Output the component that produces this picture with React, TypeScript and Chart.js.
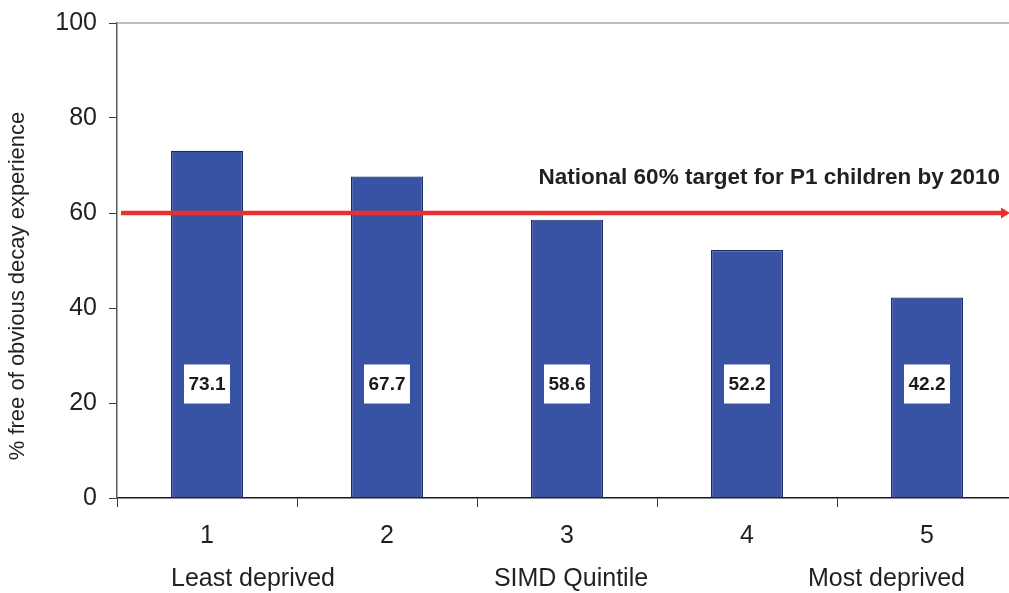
import React, { useEffect, useRef } from "react";
import { Chart, registerables } from "chart.js";

Chart.register(...registerables);

const quintiles = ["1", "2", "3", "4", "5"];
const noteLeft = "Least deprived";
const noteCenter = "SIMD Quintile";
const noteRight = "Most deprived";
const freePercent = [73.1, 67.7, 58.6, 52.2, 42.2];
const targetValue = 60;
const targetLabel = "National 60% target for P1 children by 2010";
const yTitle = "% free of obvious decay experience";
const yTicks = [0, 20, 40, 60, 80, 100];

const FONT = "'Liberation Sans', Arial, Helvetica, sans-serif";

const overlayPlugin = {
  id: "overlay",
  afterDatasetsDraw(chart: any) {
    const { ctx, chartArea, scales } = chart;
    const y = scales.y;
    ctx.save();
    // top light border at max
    ctx.strokeStyle = "#a8a8a8";
    ctx.lineWidth = 1.5;
    ctx.beginPath();
    ctx.moveTo(chartArea.left, y.getPixelForValue(100));
    ctx.lineTo(chartArea.right, y.getPixelForValue(100));
    ctx.stroke();

    // value labels
    const meta = chart.getDatasetMeta(0);
    ctx.font = `bold 19px ${FONT}`;
    ctx.textAlign = "center";
    ctx.textBaseline = "middle";
    const ly = y.getPixelForValue(24);
    meta.data.forEach((bar: any, i: number) => {
      const bx = bar.x;
      ctx.fillStyle = "#ffffff";
      ctx.fillRect(bx - 23, ly - 19.5, 46, 39);
      ctx.fillStyle = "#1a1a1a";
      ctx.fillText(freePercent[i].toFixed(1), bx, ly + 1);
    });

    // quintile notes under the axis
    const first = meta.data[0];
    const mid = meta.data[2];
    const last = meta.data[meta.data.length - 1];
    const noteY = chartArea.bottom + 81;
    ctx.font = `25px ${FONT}`;
    ctx.fillStyle = "#231f20";
    ctx.textBaseline = "middle";
    ctx.textAlign = "left";
    ctx.fillText(noteLeft, first.x - first.width / 2, noteY);
    ctx.textAlign = "center";
    ctx.fillText(noteCenter, mid.x + 4, noteY);
    ctx.textAlign = "right";
    ctx.fillText(noteRight, last.x + last.width / 2 + 2, noteY);

    // target line with arrow
    const ty = y.getPixelForValue(targetValue);
    const endX = 1009;
    ctx.strokeStyle = "#e8312f";
    ctx.fillStyle = "#e8312f";
    ctx.lineWidth = 4.5;
    ctx.beginPath();
    ctx.moveTo(chartArea.left + 4, ty);
    ctx.lineTo(endX - 6, ty);
    ctx.stroke();
    ctx.beginPath();
    ctx.moveTo(endX - 8, ty - 5.5);
    ctx.lineTo(endX + 1, ty);
    ctx.lineTo(endX - 8, ty + 5.5);
    ctx.closePath();
    ctx.fill();

    // target label
    ctx.font = `bold 22.5px ${FONT}`;
    ctx.fillStyle = "#231f20";
    ctx.textAlign = "right";
    ctx.textBaseline = "middle";
    ctx.fillText(targetLabel, 1000, ty - 35);

    // y title
    ctx.font = `22px ${FONT}`;
    ctx.fillStyle = "#231f20";
    ctx.translate(18, 286);
    ctx.rotate(-Math.PI / 2);
    ctx.textAlign = "center";
    ctx.textBaseline = "middle";
    ctx.fillText(yTitle, 0, 0);
    ctx.restore();
  },
};

export default function App() {
  const ref = useRef<HTMLCanvasElement | null>(null);

  useEffect(() => {
    document.body.style.margin = "0";
    document.body.style.overflow = "hidden";
    const canvas = ref.current;
    if (!canvas) return;
    const chart = new Chart(canvas, {
      type: "bar",
      data: {
        labels: quintiles,
        datasets: [
          {
            data: freePercent,
            backgroundColor: "#3953a4",
            borderColor: "#1d2b63",
            borderWidth: 1.2,
            barPercentage: 0.4,
            categoryPercentage: 1,
          },
        ],
      },
      options: {
        animation: false,
        responsive: false,
        maintainAspectRatio: false,
        layout: { padding: { left: 0, right: 3, top: 23, bottom: 0 } },
        plugins: {
          legend: { display: false },
          tooltip: { enabled: false },
        },
        scales: {
          x: {
            grid: {
              display: true,
              offset: true,
              drawOnChartArea: false,
              drawTicks: true,
              tickLength: 9,
              color: "#3a3a3a",
              lineWidth: 1,
            },
            border: { display: true, color: "#1a1a1a", width: 1.5 },
            ticks: {
              color: "#231f20",
              font: { family: FONT, size: 25, lineHeight: 1.7 },
              padding: 8,
              maxRotation: 0,
              autoSkip: false,
            },
            afterFit(scale: any) {
              scale.height = 95;
            },
          },
          y: {
            min: 0,
            max: 100,
            afterBuildTicks(scale: any) {
              scale.ticks = yTicks.map((v) => ({ value: v }));
            },
            grid: {
              display: true,
              drawOnChartArea: false,
              drawTicks: true,
              tickLength: 8,
              color: "#3a3a3a",
              lineWidth: 1,
            },
            border: { display: true, color: "#5a5a5a", width: 1.5 },
            ticks: {
              color: "#231f20",
              font: { family: FONT, size: 25, lineHeight: 0.6 },
              padding: 12,
            },
            afterFit(scale: any) {
              scale.width = 117;
              scale.paddingTop = 0;
              scale.paddingBottom = 0;
            },
          },
        },
      },
      plugins: [overlayPlugin],
    });
    return () => chart.destroy();
  }, []);

  return (
    <div style={{ width: 1009, height: 593, overflow: "hidden", position: "relative" }}>
      <canvas ref={ref} width={1020} height={593} style={{ width: 1020, height: 593, display: "block" }} />
    </div>
  );
}
